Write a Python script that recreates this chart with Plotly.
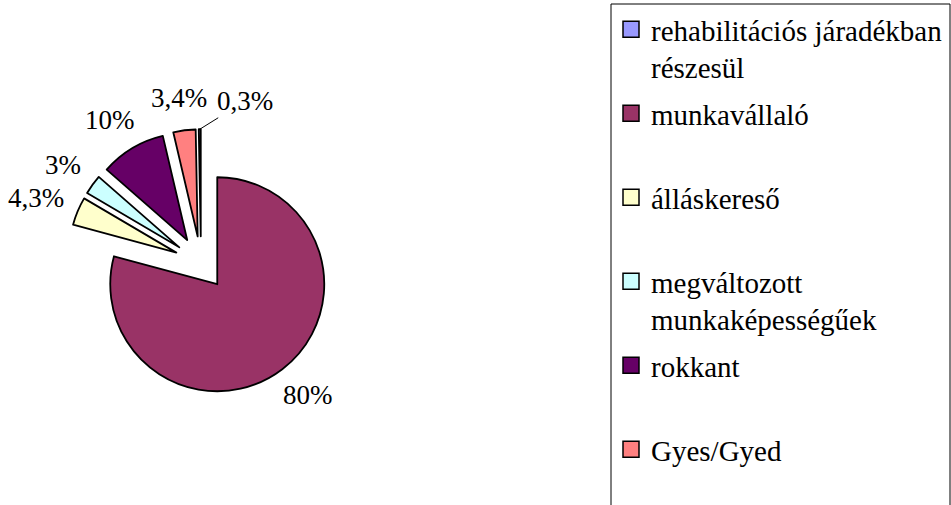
import math
import plotly.graph_objects as go

# ---- data ----
categories = ["rehabilitációs járadékban részesül", "munkavállaló", "álláskereső",
              "megváltozott munkaképességűek", "rokkant", "Gyes/Gyed"]
legend_names = ["rehabilitációs járadékban<br>részesül", "munkavállaló<br> ", "álláskereső<br> ",
                "megváltozott<br>munkaképességűek", "rokkant<br> ", "Gyes/Gyed"]
values = [0.3, 80, 4.3, 3, 10, 3.4]
value_labels = ["0,3%", "80%", "4,3%", "3%", "10%", "3,4%"]
colors = ["#9999FF", "#993366", "#FFFFCC", "#CCFFFF", "#660066", "#FF8080"]

W, H = 951, 505
FONT = "Liberation Serif"
LABEL_SIZE = 27

total = sum(values)
rotation = -values[0] / total * 360.0

# pie geometry (pixels)
cx, cy, R, pull = 201, 263, 107, 0.25
half = R * (1 + pull)

fig = go.Figure()
fig.add_trace(go.Pie(
    labels=categories,
    values=values,
    textinfo="none",
    marker=dict(colors=colors, line=dict(color="black", width=1.8)),
    sort=False,
    direction="clockwise",
    rotation=rotation,
    pull=[pull] * len(values),
    showlegend=False,
    hoverinfo="label+percent",
    domain=dict(x=[(cx - half) / W, (cx + half) / W],
                y=[1 - (cy + half) / H, 1 - (cy - half) / H]),
))

for i, (name, c) in enumerate(zip(legend_names, colors)):
    fig.add_trace(go.Scatter(
        x=[None], y=[None], mode="markers", name=name,
        marker=dict(symbol="square", size=16, color=c, line=dict(color="black", width=1.5)),
        legendgroup=str(i), showlegend=True, hoverinfo="skip",
    ))

# ---- data labels placed outside their slices (computed from the values) ----
char_w = {",": 0.25, "%": 0.833}
def text_width(s):
    return sum(char_w.get(ch, 0.5) for ch in s) * LABEL_SIZE

annotations = []
start = rotation
for i, (v, lab) in enumerate(zip(values, value_labels)):
    ang = math.radians(start + v / total * 180.0)
    start += v / total * 360.0
    dx, dy = math.sin(ang), -math.cos(ang)
    if i == 0:
        # tiny slice: label moved aside with a leader line
        px, py = cx + dx * half, cy + dy * half
        annotations.append(dict(x=px / W, y=1 - py / H, xref="paper", yref="paper",
                                text=lab, showarrow=True, arrowhead=0, arrowwidth=1,
                                arrowcolor="black", ax=45, ay=-28, standoff=0,
                                font=dict(family=FONT, size=LABEL_SIZE, color="black")))
        continue
    d = half + 21
    w = text_width(lab) * 0.85
    px = cx + dx * d + dx * w / 2
    py = cy + dy * d + dy * 12
    annotations.append(dict(x=px / W, y=1 - py / H, xref="paper", yref="paper",
                            text=lab, showarrow=False, xanchor="center", yanchor="middle",
                            font=dict(family=FONT, size=LABEL_SIZE, color="black")))

fig.add_shape(type="rect", xref="paper", yref="paper",
              x0=611 / W, x1=950 / W, y0=-0.05, y1=1 - 4 / H,
              line=dict(color="black", width=1), fillcolor="rgba(0,0,0,0)", layer="below")

fig.update_layout(
    width=W, height=H,
    margin=dict(l=0, r=0, t=0, b=0, autoexpand=False),
    paper_bgcolor="white", plot_bgcolor="white",
    font=dict(family=FONT, color="black"),
    xaxis=dict(visible=False), yaxis=dict(visible=False),
    annotations=annotations,
    legend=dict(x=611 / W, y=1 - 4 / H, xanchor="left", yanchor="top",
                font=dict(family=FONT, size=29, color="black"),
                bgcolor="rgba(0,0,0,0)", borderwidth=0,
                valign="top", tracegroupgap=5.6, itemsizing="trace"),
)

fig.write_html("out.html", config={"displayModeBar": False},
               post_script="document.body.style.margin='0px';")
